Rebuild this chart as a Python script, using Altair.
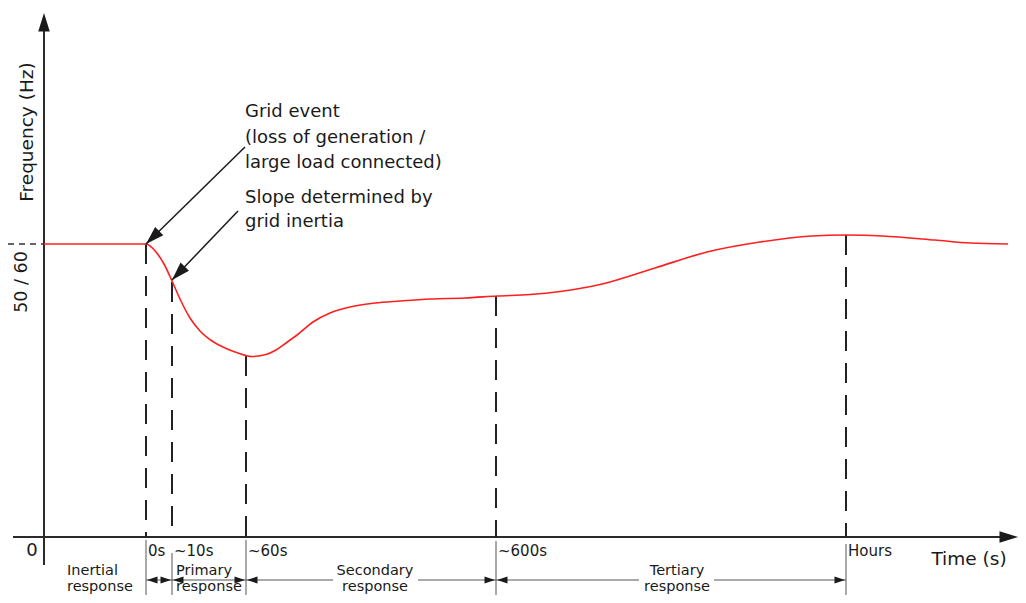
import altair as alt
import pandas as pd

# ---------------- data (diagram units: horizontal / vertical position on the sketch) ----------------
curve_x = [44, 146, 156, 164, 172, 180, 190, 200, 212, 225, 238, 252, 266, 276, 286, 297, 313, 330,
           350, 375, 400, 430, 465, 497, 530, 560, 600, 655, 707, 760, 812, 846, 882, 935, 970, 1008]
curve_y = [244, 244, 252, 264, 281, 299, 318, 331, 341, 348, 353, 356.5, 354.5, 350, 343, 335, 322, 313,
           307, 303, 301, 299, 298, 296, 294.5, 291.5, 284.5, 268, 252, 242, 236, 235, 236, 240, 243, 244]

stage_x = [146, 172, 246, 496, 846]
stage_top = [244, 282, 356, 296, 235]
stage_tick_top = [540, 553, 540, 541, 544]
stage_labels = ["0s", "~10s", "~60s", "~600s", "Hours"]

nominal_level = 244      # 50 / 60 Hz
axis_level = 537         # frequency 0 / time axis
axis_pos = 44            # frequency axis position

response_line1 = ["Inertial", "Primary", "Secondary", "Tertiary"]
response_line2 = ["response", "response", "response", "response"]
response_pos = [67, 176, 375, 677]
response_align = ["left", "left", "center", "center"]

dim_x1 = [146, 172, 246, 418, 496, 714]
dim_x2 = [172, 246, 333, 496, 639, 846]
dim_level = 580
dim_head_x = [147, 171, 173, 245, 247, 495, 497, 845]
dim_head_a = [270, 90, 270, 90, 270, 90, 270, 90]

note_lines = ["Grid event", "(loss of generation /", "large load connected)",
              "Slope determined by", "grid inertia"]
note_y = [117, 143, 168, 203, 227]
note_x = 245
note_arrow_from_x = [245, 238]
note_arrow_from_y = [147, 211]
note_arrow_to_x = [146, 172]
note_arrow_to_y = [244, 280]
note_arrow_angle = [225.6, 223.7]

# ---------------- chart ----------------
W, H = 1010, 587
X0, Y0 = 8, 8
FONT = "DejaVu Sans"
INK = "#1a1a1a"
xs = alt.Scale(domain=[X0, X0 + W], nice=False, zero=False)
ys = alt.Scale(domain=[Y0 + H, Y0], nice=False, zero=False)


def X(f="x"):
    return alt.X(f"{f}:Q", scale=xs, axis=None)


def Y(f="y"):
    return alt.Y(f"{f}:Q", scale=ys, axis=None)


def segs(df, color, width, dash=None):
    kw = dict(color=color, strokeWidth=width)
    if dash:
        kw["strokeDash"] = dash
    return alt.Chart(df).mark_rule(**kw).encode(x=X(), y=Y(), x2="x2:Q", y2="y2:Q")


def texts(df, size, align, baseline="alphabetic", angle=0):
    return alt.Chart(df).mark_text(fontSize=size, align=align, baseline=baseline, angle=angle,
                                   font=FONT, color=INK).encode(x=X(), y=Y(), text="t:N")


def heads(df, path, color=INK):
    return alt.Chart(df).mark_point(shape=path, size=400, filled=True, fill=color, strokeWidth=0,
                                    opacity=1).encode(x=X(), y=Y(), angle=alt.Angle("a:Q", scale=None))


HEAD_BIG = "M0,0 L-0.58,1.85 L0.58,1.85 Z"
HEAD_SMALL = "M0,0 L-0.36,1.05 L0.36,1.05 Z"

layers = []

# axes
axes_df = pd.DataFrame({"x": [axis_pos, 13], "y": [565, axis_level],
                        "x2": [axis_pos, 1002], "y2": [30, axis_level]})
layers.append(segs(axes_df, "#2a2a2a", 2))
layers.append(heads(pd.DataFrame({"x": [axis_pos, 1018], "y": [13, axis_level], "a": [0, 90]}), HEAD_BIG))

# nominal frequency tick
layers.append(segs(pd.DataFrame({"x": [8], "y": [nominal_level], "x2": [axis_pos], "y2": [nominal_level]}),
                   "#333", 1.5, [6, 5]))

# dashed stage markers
layers.append(segs(pd.DataFrame({"x": stage_x, "y": stage_top, "x2": stage_x,
                                 "y2": [axis_level] * len(stage_x)}), "#222", 2, [20, 12]))
# solid ticks below axis
layers.append(segs(pd.DataFrame({"x": stage_x, "y": stage_tick_top, "x2": stage_x,
                                 "y2": [610] * len(stage_x)}), "#555", 1))

# dimension lines and heads
layers.append(segs(pd.DataFrame({"x": dim_x1, "y": [dim_level] * len(dim_x1), "x2": dim_x2,
                                 "y2": [dim_level] * len(dim_x1)}), "#555", 1))
layers.append(heads(pd.DataFrame({"x": dim_head_x, "y": [dim_level] * len(dim_head_x), "a": dim_head_a}),
                    HEAD_SMALL))

# frequency curve
layers.append(alt.Chart(pd.DataFrame({"x": curve_x, "y": curve_y})).mark_line(
    color="#ff1f1f", strokeWidth=1.6, interpolate="monotone").encode(x=X(), y=Y()))

# annotation arrows
layers.append(segs(pd.DataFrame({"x": note_arrow_from_x, "y": note_arrow_from_y,
                                 "x2": note_arrow_to_x, "y2": note_arrow_to_y}), INK, 1.5))
layers.append(heads(pd.DataFrame({"x": note_arrow_to_x, "y": note_arrow_to_y, "a": note_arrow_angle}),
                    HEAD_BIG))

# texts
layers.append(texts(pd.DataFrame({"x": [note_x] * len(note_lines), "y": note_y, "t": note_lines}), 18, "left"))
layers.append(texts(pd.DataFrame({"x": [s + 2 for s in stage_x], "y": [556] * len(stage_x),
                                  "t": stage_labels}), 15, "left"))
layers.append(texts(pd.DataFrame({"x": [32], "y": [556], "t": ["0"]}), 18, "center"))
layers.append(texts(pd.DataFrame({"x": [969], "y": [565], "t": ["Time (s)"]}), 18.5, "center"))
layers.append(texts(pd.DataFrame({"x": [33], "y": [132], "t": ["Frequency (Hz)"]}), 18.5, "center",
                    angle=270))
layers.append(texts(pd.DataFrame({"x": [27], "y": [282], "t": ["50 / 60"]}), 17.5, "center", angle=270))
for al in ["left", "center"]:
    idx = [i for i, a in enumerate(response_align) if a == al]
    layers.append(texts(pd.DataFrame({"x": [response_pos[i] for i in idx] * 2,
                                      "y": [575] * len(idx) + [591] * len(idx),
                                      "t": [response_line1[i] for i in idx] + [response_line2[i] for i in idx]}),
                        14.5, al))

chart = alt.layer(*layers).properties(width=W, height=H, padding=0, autosize="none").configure_view(
    stroke=None)

chart.save("out.html", embed_options={"renderer": "svg", "actions": False})
